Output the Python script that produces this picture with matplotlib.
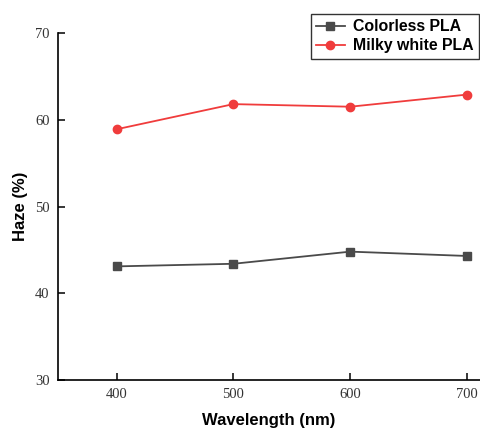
import matplotlib
matplotlib.use("Agg")
import matplotlib.pyplot as plt

wavelength = [400, 500, 600, 700]
colorless = [43.1, 43.4, 44.8, 44.3]
milky = [58.9, 61.8, 61.5, 62.9]
xticks = [400, 500, 600, 700]
yticks = [30, 40, 50, 60, 70]

fig = plt.figure(figsize=(4.8, 4.28), dpi=100)
ax = fig.add_axes([0.121, 0.112, 0.879, 0.811])

ax.plot(wavelength, colorless, color="#4a4a4a", marker="s", markersize=5.5, lw=1.3,
        label="Colorless PLA")
ax.plot(wavelength, milky, color="#f03c3c", marker="o", markersize=6, lw=1.3,
        label="Milky white PLA")

ax.set_xlim(350, 711)
ax.set_ylim(30, 70)
ax.set_xticks(xticks)
ax.set_yticks(yticks)
ax.spines["top"].set_visible(False)
ax.spines["right"].set_visible(False)
for s in ["left", "bottom"]:
    ax.spines[s].set_linewidth(1.2)
ax.tick_params(direction="in", length=5, width=1.1, labelsize=10.5, pad=6)
for lab in ax.get_xticklabels() + ax.get_yticklabels():
    lab.set_fontfamily("Liberation Serif")
    lab.set_color("#333333")

ax.set_xlabel("Wavelength (nm)", fontsize=12, fontweight="bold",
              fontfamily="Liberation Sans", labelpad=8)
ax.set_ylabel("Haze (%)", fontsize=12, fontweight="bold",
              fontfamily="Liberation Sans", labelpad=5)

leg = ax.legend(loc="upper right", bbox_to_anchor=(0.997, 1.055),
                prop={"family": "Liberation Sans", "weight": "bold", "size": 11.4},
                frameon=True, fancybox=False, edgecolor="black",
                borderpad=0.35, labelspacing=0.25, handlelength=1.8,
                handletextpad=0.5, borderaxespad=0.0)
leg.get_frame().set_linewidth(1.0)

fig.savefig("out.png", dpi=100)
